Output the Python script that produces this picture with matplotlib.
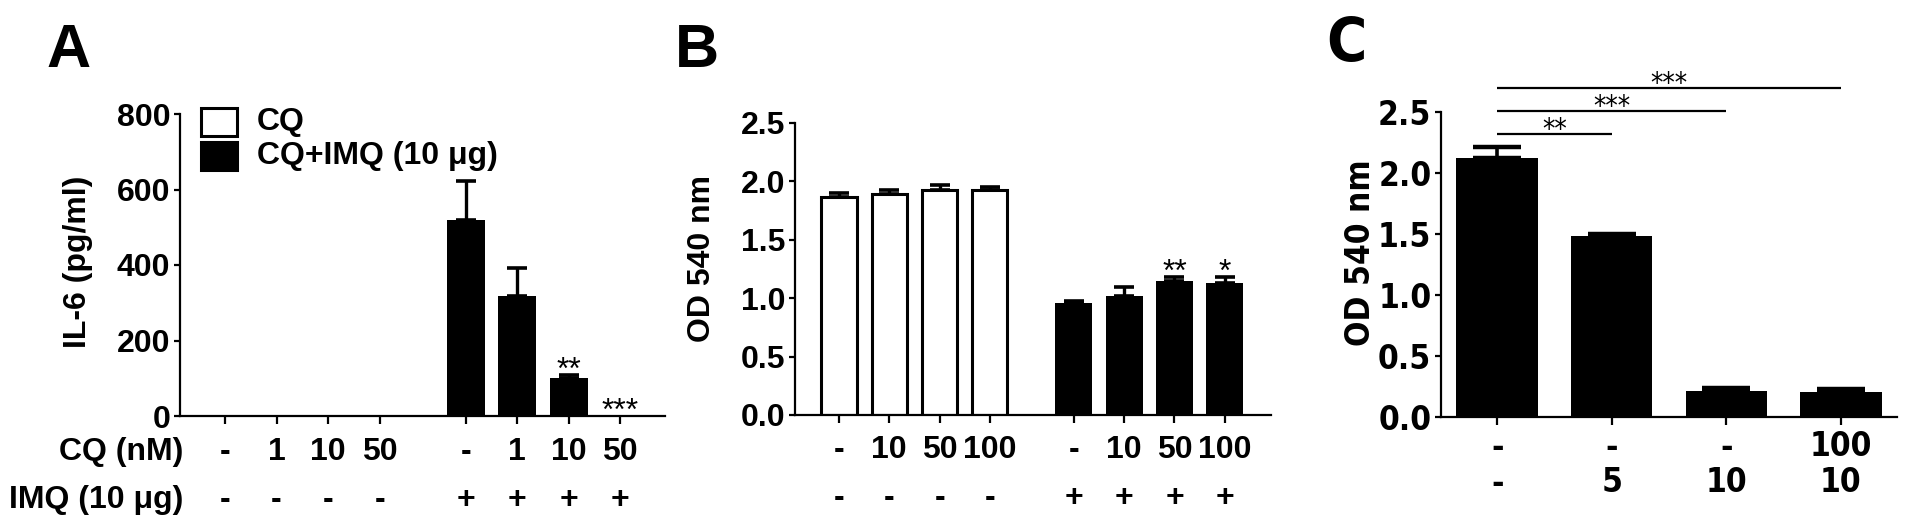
import matplotlib
matplotlib.use('Agg')
import matplotlib.pyplot as plt
from matplotlib import font_manager as fm
from matplotlib import transforms as mtrans
from matplotlib.patches import Rectangle

W, H, DPI = 1913, 529, 100

names = {f.name for f in fm.fontManager.ttflist}
MAIN = 'Liberation Sans' if 'Liberation Sans' in names else 'DejaVu Sans'
NARROW_STRETCH = 'normal'
if 'Liberation Sans Narrow' in names:
    NARROW = 'Liberation Sans Narrow'
elif any(f.name == 'DejaVu Sans' and str(f.stretch) in ('condensed', 'semi-condensed')
         for f in fm.fontManager.ttflist):
    NARROW = 'DejaVu Sans'
    NARROW_STRETCH = 'condensed'
else:
    NARROW = MAIN
plt.rcParams['font.family'] = [MAIN, 'DejaVu Sans']
plt.rcParams['font.weight'] = 'bold'

# ---------------- data ----------------
# Panel A : IL-6 (pg/ml)
a_cq_row = ['-', '1', '10', '50', '-', '1', '10', '50']
a_imq_row = ['-', '-', '-', '-', '+', '+', '+', '+']
a_cq_values = [0, 0, 0, 0]
a_imq_values = [520, 318, 100, 0]
a_imq_err = [102, 75, 9, 0]
a_stars = ['', '', '**', '***']
a_yticks = [0, 200, 400, 600, 800]

# Panel B : OD 540 nm
b_cq_row = ['-', '10', '50', '100', '-', '10', '50', '100']
b_imq_row = ['-', '-', '-', '-', '+', '+', '+', '+']
b_cq_values = [1.87, 1.89, 1.93, 1.93]
b_cq_err = [0.03, 0.04, 0.04, 0.02]
b_imq_values = [0.955, 1.02, 1.15, 1.13]
b_imq_err = [0.02, 0.08, 0.03, 0.05]
b_stars = ['', '', '**', '*']
b_yticks = [0.0, 0.5, 1.0, 1.5, 2.0, 2.5]

# Panel C : OD 540 nm
c_row1 = ['-', '-', '-', '100']
c_row2 = ['-', '5', '10', '10']
c_values = [2.12, 1.48, 0.21, 0.205]
c_err = [0.09, 0.02, 0.025, 0.025]
c_brackets = [(0, 1, '**'), (0, 2, '***'), (0, 3, '***')]
c_yticks = [0.0, 0.5, 1.0, 1.5, 2.0, 2.5]

# ---------------- layout ----------------
fig = plt.figure(figsize=(W / DPI, H / DPI), dpi=DPI)
fig.patch.set_facecolor('white')
FS = 23
FSC = 24


def px_axes(l, t, r, b):
    return fig.add_axes([l / W, 1 - b / H, (r - l) / W, (b - t) / H])


def fy(y):
    return 1 - y / H


def style(ax, family, stretch='normal', size=FS):
    for s in ['top', 'right']:
        ax.spines[s].set_visible(False)
    for s in ['left', 'bottom']:
        ax.spines[s].set_linewidth(1.6)
    ax.tick_params(axis='y', direction='out', length=4, width=1.6,
                   labelsize=size, pad=3)
    ax.tick_params(axis='x', direction='out', length=5.5, width=1.6,
                   labelbottom=False)
    for lab in ax.get_yticklabels():
        lab.set_fontweight('bold')
        lab.set_family(family)
        lab.set_fontstretch(stretch)


def row_text(ax, xs, labels, ypx, family, size=FS, stretch='normal'):
    tr = mtrans.blended_transform_factory(ax.transData, fig.transFigure)
    for x, s in zip(xs, labels):
        ax.text(x, fy(ypx), s, transform=tr, ha='center', va='center',
                fontsize=size, fontweight='bold', family=family,
                fontstretch=stretch, clip_on=False)


def draw_err(ax, xs, vals, errs, capsize, capthick=2.6, elw=2.4):
    sel = [(x, v, e) for x, v, e in zip(xs, vals, errs) if e > 0]
    if not sel:
        return
    x, v, e = zip(*sel)
    ax.errorbar(x, v, yerr=[[0] * len(e), list(e)], fmt='none', ecolor='black',
                elinewidth=elw, capsize=capsize, capthick=capthick, zorder=3)


def stars(ax, xs, vals, errs, labels, dy=-3):
    for x, v, e, s in zip(xs, vals, errs, labels):
        if s:
            ax.annotate(s, (x, v + e), xytext=(0, dy), textcoords='offset points',
                        ha='center', va='baseline', fontsize=FS,
                        fontweight='normal', annotation_clip=False)


GAP = 4.67
pos1 = [0, 1, 2, 3]
pos2 = [GAP + i for i in range(4)]
BW = 0.74

# ---- Panel A ----
axA = px_axes(180, 114, 665, 416)
axA.bar(pos1, a_cq_values, width=BW, color='white', edgecolor='black', lw=2)
axA.bar(pos2, a_imq_values, width=BW, color='black', edgecolor='black', lw=0)
draw_err(axA, pos2, a_imq_values, a_imq_err, capsize=7.5)
axA.set_ylim(0, 800)
axA.set_xlim(-0.874, 8.54)
axA.set_yticks(a_yticks)
axA.set_xticks(pos1 + pos2)
style(axA, MAIN)
stars(axA, pos2, a_imq_values, a_imq_err, a_stars)
row_text(axA, pos1 + pos2, a_cq_row, 452, MAIN)
row_text(axA, pos1 + pos2, a_imq_row, 500, MAIN)
fig.text(183 / W, fy(452), 'CQ (nM)', ha='right', va='center', fontsize=FS,
         fontweight='bold')
fig.text(183 / W, fy(500), 'IMQ (10 μg)', ha='right', va='center', fontsize=FS,
         fontweight='bold')
fig.text(78 / W, fy(262), 'IL-6 (pg/ml)', rotation=90, ha='center',
         va='center', fontsize=FS, fontweight='bold')
fig.text(46 / W, fy(67), 'A', ha='left', va='baseline', fontsize=44,
         fontweight='bold')
# legend
leg_items = [('white', 'CQ'), ('black', 'CQ+IMQ (10 μg)')]
for i, (col, lab) in enumerate(leg_items):
    top = 108 + i * 34
    fig.patches.append(Rectangle((201 / W, fy(top + 28)), 36 / W, 28 / H,
                                 transform=fig.transFigure, facecolor=col,
                                 edgecolor='black', lw=2.2))
    fig.text(257 / W, fy(top + 14), lab, ha='left', va='center', fontsize=FS,
             fontweight='bold')

# ---- Panel B ----
axB = px_axes(795, 123, 1271, 415)
axB.bar(pos1, b_cq_values, width=BW - 0.04, color='white', edgecolor='black',
        lw=2.2)
axB.bar(pos2, b_imq_values, width=BW, color='black', edgecolor='black', lw=0)
draw_err(axB, pos1, b_cq_values, b_cq_err, capsize=7.5)
draw_err(axB, pos2, b_imq_values, b_imq_err, capsize=7.5)
axB.set_ylim(0, 2.5)
axB.set_xlim(-0.875, 8.59)
axB.set_yticks(b_yticks)
axB.set_yticklabels([f'{v:.1f}' for v in b_yticks])
axB.set_xticks(pos1 + pos2)
style(axB, MAIN)
stars(axB, pos2, b_imq_values, b_imq_err, b_stars)
row_text(axB, pos1 + pos2, b_cq_row, 450, MAIN)
row_text(axB, pos1 + pos2, b_imq_row, 498, MAIN)
fig.text(702 / W, fy(258), 'OD 540 nm', rotation=90, ha='center',
         va='center', fontsize=FS, fontweight='bold')
fig.text(675 / W, fy(67), 'B', ha='left', va='baseline', fontsize=44,
         fontweight='bold')

# ---- Panel C ----
posC = [0, 1, 2, 3]
axC = px_axes(1441, 112, 1897, 417)
axC.bar(posC, c_values, width=0.71, color='black', edgecolor='black', lw=0)
draw_err(axC, posC, c_values, c_err, capsize=17, capthick=3.2, elw=2.6)
axC.set_ylim(0, 2.5)
axC.set_xlim(-0.49, 3.49)
axC.set_yticks(c_yticks)
axC.set_yticklabels([f'{v:.1f}' for v in c_yticks])
axC.set_xticks(posC)
style(axC, NARROW, NARROW_STRETCH, size=FSC)
row_text(axC, posC, c_row1, 447, NARROW, size=FSC, stretch=NARROW_STRETCH)
row_text(axC, posC, c_row2, 483, NARROW, size=FSC, stretch=NARROW_STRETCH)
fig.text(1360 / W, fy(253), 'OD 540 nm', rotation=90, ha='center',
         va='center', fontsize=FSC, fontweight='bold', family=NARROW,
         fontstretch=NARROW_STRETCH)
fig.text(1326 / W, fy(61), 'C', ha='left', va='baseline', fontsize=44,
         fontweight='bold', family=NARROW, fontstretch=NARROW_STRETCH)
top_val = max(v + e for v, e in zip(c_values, c_err))
for k, (i, j, s) in enumerate(c_brackets):
    yb = top_val + 0.11 + k * 0.19
    axC.plot([posC[i], posC[j]], [yb, yb], color='black', lw=1.6,
             clip_on=False, solid_capstyle='butt')
    axC.annotate(s, ((posC[i] + posC[j]) / 2, yb), xytext=(0, -3),
                 textcoords='offset points', ha='center', va='baseline',
                 fontsize=20, fontweight='normal', family=NARROW,
                 fontstretch=NARROW_STRETCH, annotation_clip=False)

fig.savefig('out.png', dpi=DPI, facecolor='white')
